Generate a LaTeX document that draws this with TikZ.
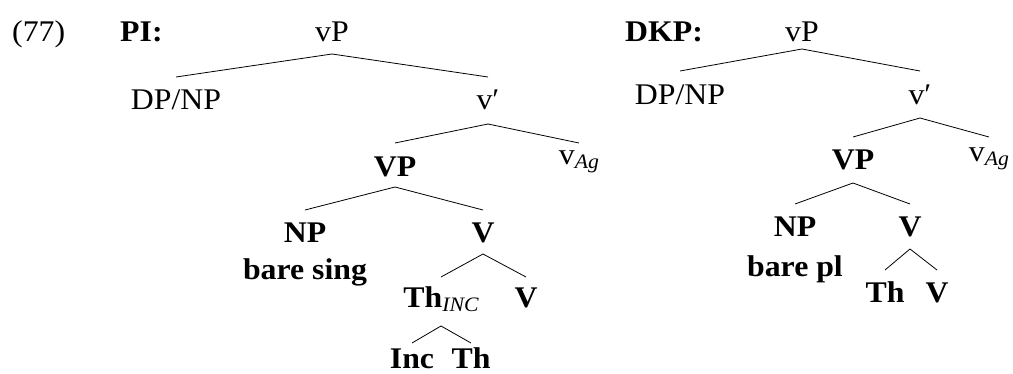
\documentclass[tikz,border=0pt]{standalone}
\usepackage{fontspec}
\setmainfont[FakeStretch=1.06]{Liberation Serif}
\usetikzlibrary{calc}
\newcommand\lsub[1]{\raisebox{-4pt}{\fontsize{20.5}{20.5}\selectfont\itshape #1}}
\begin{document}
\begin{tikzpicture}[x=1pt,y=-1pt,
  lab/.style={anchor=base,inner sep=0pt,font=\fontsize{30}{34}\selectfont},
  blab/.style={lab,font=\fontsize{30}{34}\selectfont\bfseries},
  branch/.style={line width=0.8pt}]
\useasboundingbox (0,0) rectangle (1013,374);

% example number and headings
\node[lab,anchor=base west] (num) at (12,42) {(77)};
\node[blab,anchor=base west] (hpi) at (120,42) {PI:};
\node[blab,anchor=base west] (hdkp) at (625,42) {DKP:};

% PI tree
\node[lab]  (vPa)   at (332,42)  {vP};
\node[lab]  (DPa)   at (176,110) {DP/NP};
\node[lab]  (vba)   at (488,110) {v′};
\node[blab] (VPa)   at (395,177) {VP};
\node[lab]  (vAga)  at (579,165) {v\lsub{Ag}};
\node[blab] (NPa)   at (305,243) {NP};
\node[blab] (bsa)   at (305,280) {bare sing};
\node[blab] (Va)    at (483,243) {V};
\node[blab] (ThI)   at (441,308) {Th\lsub{\mdseries INC}};
\node[blab] (Vb)    at (526,308) {V};
\node[blab] (Inc)   at (412,369) {Inc};
\node[blab] (Tha)   at (471,369) {Th};

\draw[branch] ($(vPa.base)+(0,12)$) -- ($(DPa.base)+(0,-33)$);
\draw[branch] ($(vPa.base)+(0,12)$) -- ($(vba.base)+(0,-33)$);
\draw[branch] ($(vba.base)+(0,14)$) -- ($(VPa.base)+(0,-34)$);
\draw[branch] ($(vba.base)+(0,14)$) -- ($(vAga.base)+(0,-22)$);
\draw[branch] ($(VPa.base)+(0,10)$) -- ($(NPa.base)+(0,-33)$);
\draw[branch] ($(VPa.base)+(0,10)$) -- ($(Va.base)+(0,-33)$);
\draw[branch] ($(Va.base)+(0,11)$) -- ($(ThI.base)+(0,-31)$);
\draw[branch] ($(Va.base)+(0,11)$) -- ($(Vb.base)+(0,-31)$);
\draw[branch] ($(ThI.base)+(0,18)$) -- ($(Inc.base)+(0,-26)$);
\draw[branch] ($(ThI.base)+(0,18)$) -- ($(Tha.base)+(0,-26)$);

% DKP tree
\node[lab]  (vPb)   at (802,42)  {vP};
\node[lab]  (DPb)   at (680,105) {DP/NP};
\node[lab]  (vbb)   at (920,105) {v′};
\node[blab] (VPb)   at (853,170) {VP};
\node[lab]  (vAgb)  at (989,162) {v\lsub{Ag}};
\node[blab] (NPb)   at (795,237) {NP};
\node[blab] (bpb)   at (795,277) {bare pl};
\node[blab] (Vc)    at (910,237) {V};
\node[blab] (Thb)   at (885,303) {Th};
\node[blab] (Vd)    at (937,303) {V};

\draw[branch] ($(vPb.base)+(0,7)$) -- ($(DPb.base)+(0,-34)$);
\draw[branch] ($(vPb.base)+(0,7)$) -- ($(vbb.base)+(0,-34)$);
\draw[branch] ($(vbb.base)+(0,13)$) -- ($(VPb.base)+(0,-33)$);
\draw[branch] ($(vbb.base)+(0,13)$) -- ($(vAgb.base)+(0,-25)$);
\draw[branch] ($(VPb.base)+(0,13)$) -- ($(NPb.base)+(0,-33)$);
\draw[branch] ($(VPb.base)+(0,13)$) -- ($(Vc.base)+(0,-33)$);
\draw[branch] ($(Vc.base)+(0,12)$) -- ($(Thb.base)+(0,-33)$);
\draw[branch] ($(Vc.base)+(0,12)$) -- ($(Vd.base)+(0,-33)$);
\end{tikzpicture}
\end{document}
